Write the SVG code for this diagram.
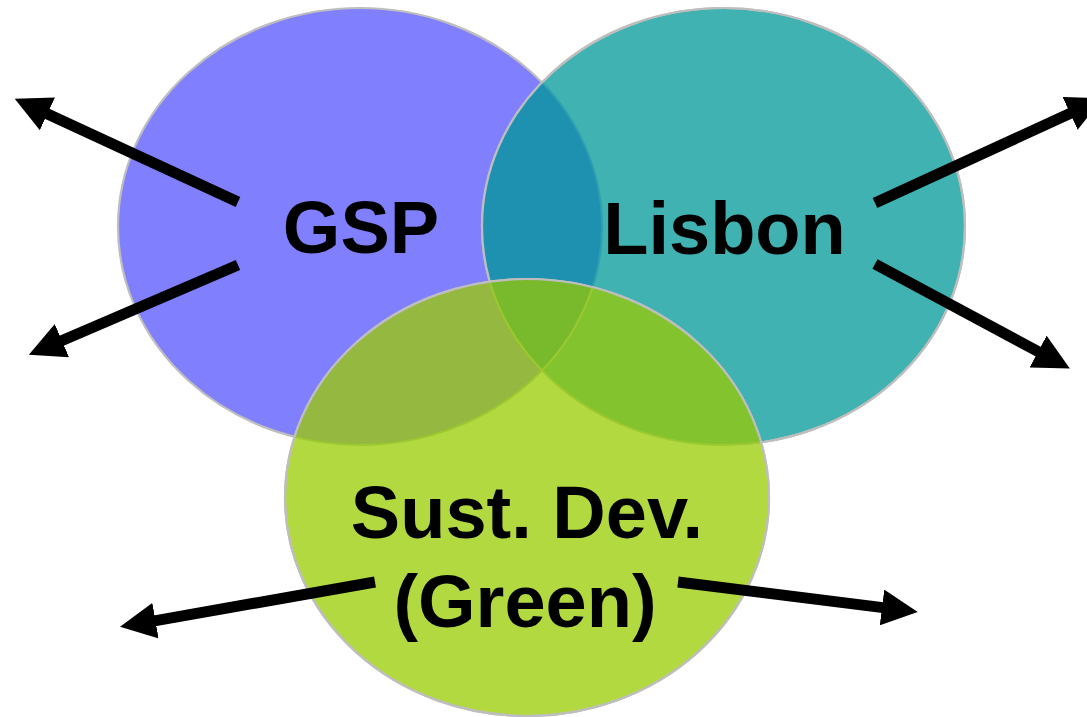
<svg xmlns="http://www.w3.org/2000/svg" width="1087" height="717" viewBox="0 0 1087 717">
  <style>
    .edge { fill: none; stroke: #BEBEBE; stroke-width: 2.2; }
    .label { font-family: "Liberation Sans", Arial, sans-serif; font-weight: bold; font-size: 74px; fill: #000; text-anchor: middle; }
    .arrow { stroke: #000; stroke-width: 11; fill: none; marker-end: url(#head); }
    .inner { fill: none; stroke-width: 2; }
  </style>
  <defs>
    <marker id="head" markerUnits="userSpaceOnUse" viewBox="0 -18 36 36" markerWidth="36" markerHeight="36" refX="1" refY="0" orient="auto">
      <path d="M0,-18 L36,0 L0,18 Z" fill="#000"/>
    </marker>
    <clipPath id="clipBlue"><ellipse cx="360" cy="226.5" rx="242" ry="218.5"/></clipPath>
    <clipPath id="clipTeal"><ellipse cx="723.5" cy="226.5" rx="241.5" ry="218.5"/></clipPath>
    <clipPath id="clipGreen"><ellipse cx="527" cy="497.5" rx="242" ry="218.5"/></clipPath>
  </defs>

  <g id="node-gsp">
    <ellipse cx="360" cy="226.5" rx="242" ry="218.5" class="edge" style="fill:#8080FF"/>
    <text class="label" x="361" y="253">GSP</text>
  </g>

  <g id="node-lisbon">
    <ellipse cx="723.5" cy="226.5" rx="241.5" ry="218.5" class="edge" style="fill:#40B2B2"/>
    <text class="label" x="724.5" y="254">Lisbon</text>
  </g>

  <g id="overlap-gsp-lisbon">
    <ellipse cx="360" cy="226.5" rx="242" ry="218.5" fill="#1F91B0" clip-path="url(#clipTeal)"/>
    <ellipse cx="360" cy="226.5" rx="242" ry="218.5" class="inner" stroke="#2E9FB0" clip-path="url(#clipTeal)"/>
    <ellipse cx="723.5" cy="226.5" rx="241.5" ry="218.5" class="edge"/>
  </g>

  <g id="node-green">
    <ellipse cx="527" cy="497.5" rx="242" ry="218.5" class="edge" style="fill:#B2DA40"/>
    <text class="label" x="527" y="538">Sust. Dev.</text>
    <text class="label" x="525" y="627">(Green)</text>
  </g>

  <g id="overlap-green">
    <g clip-path="url(#clipGreen)">
      <ellipse cx="360" cy="226.5" rx="242" ry="218.5" fill="#95B840"/>
      <ellipse cx="723.5" cy="226.5" rx="241.5" ry="218.5" fill="#83C42E"/>
      <g clip-path="url(#clipTeal)">
        <ellipse cx="360" cy="226.5" rx="242" ry="218.5" fill="#79BA2C"/>
      </g>
      <ellipse cx="360" cy="226.5" rx="242" ry="218.5" class="inner" stroke="#9CC830"/>
      <ellipse cx="723.5" cy="226.5" rx="241.5" ry="218.5" class="inner" stroke="#9CC830"/>
    </g>
    <ellipse cx="527" cy="497.5" rx="242" ry="218.5" class="edge"/>
  </g>

  <g id="connectors">
    <line class="arrow" x1="238" y1="202" x2="46.5" y2="113.5"/>
    <line class="arrow" x1="238" y1="265" x2="61" y2="341"/>
    <line class="arrow" x1="875" y1="203" x2="1071" y2="113"/>
    <line class="arrow" x1="875" y1="264" x2="1039" y2="352"/>
    <line class="arrow" x1="375" y1="582" x2="154.5" y2="620.8"/>
    <line class="arrow" x1="678" y1="582" x2="883" y2="607.6"/>
  </g>
</svg>
